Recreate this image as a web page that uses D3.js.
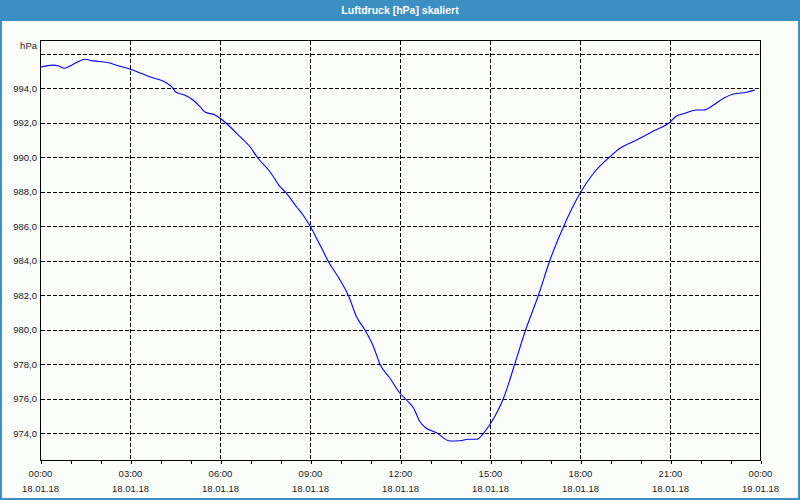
<!DOCTYPE html>
<html><head><meta charset="utf-8">
<script src="https://cdn.jsdelivr.net/npm/d3@7"></script>
<style>
html,body{margin:0;padding:0;background:#fbfdfb;}
svg{display:block;}
text{font-family:"Liberation Sans",Arial,sans-serif;}
</style></head>
<body>
<script>
const title = "Luftdruck [hPa] skaliert";
const unitLabel = "hPa";
const times = ["00:00","00:26","00:36","00:49","01:03","01:16","01:29","01:46","02:16","02:36","02:59","03:22","03:49","04:09","04:23","04:33","04:49","05:06","05:20","05:30","05:50","06:00","06:20","06:40","07:00","07:16","07:40","08:00","08:10","08:33","08:46","09:00","09:20","09:37","10:00","10:17","10:33","10:50","11:07","11:20","11:40","12:00","12:13","12:27","12:40","12:50","13:13","13:40","14:00","14:17","14:33","14:47","15:00","15:13","15:27","15:50","16:10","16:37","17:00","17:27","18:00","18:27","19:00","19:20","19:53","20:27","21:00","21:13","21:30","21:53","22:07","22:27","22:47","23:07","23:33","23:50"];
const pressure = [995.23,995.35,995.32,995.17,995.35,995.55,995.69,995.60,995.50,995.32,995.13,994.88,994.59,994.39,994.10,993.76,993.62,993.33,992.94,992.63,992.46,992.27,991.78,991.20,990.62,989.95,989.17,988.30,988.01,987.14,986.66,986.02,984.92,983.95,982.89,981.98,980.76,979.99,979.02,978.00,977.19,976.32,975.93,975.47,974.67,974.35,974.03,973.55,973.57,973.65,973.65,974.00,974.52,975.16,976.03,978.06,979.89,982.02,984.05,985.98,987.92,989.08,990.04,990.53,991.01,991.53,992.04,992.40,992.56,992.75,992.75,993.04,993.43,993.68,993.78,993.91];
const yTicks = [974,976,978,980,982,984,986,988,990,992,994];
const yGrid = [974,976,978,980,982,984,986,988,990,992,994,996];
const xTickLabels = [["00:00","18.01.18"],["03:00","18.01.18"],["06:00","18.01.18"],["09:00","18.01.18"],["12:00","18.01.18"],["15:00","18.01.18"],["18:00","18.01.18"],["21:00","18.01.18"],["00:00","19.01.18"]];

const W = 800, H = 500;
const L = 40, R = 760, T = 40, B = 460;
const svg = d3.select("body").append("svg").attr("width", W).attr("height", H);
svg.append("rect").attr("width", W).attr("height", H).attr("fill", "#fbfdfb");

// title bar
const blue = "#3c8fc3";
svg.append("rect").attr("x",0).attr("y",0).attr("width",W).attr("height",21).attr("fill",blue);
svg.append("text").attr("x",400).attr("y",14).attr("text-anchor","middle")
  .attr("fill","#fff").attr("font-weight","bold").attr("font-size","10.5px").text(title);
// window border
svg.append("rect").attr("x",0).attr("y",21).attr("width",2).attr("height",H-21).attr("fill",blue);
svg.append("rect").attr("x",W-2).attr("y",21).attr("width",2).attr("height",H-21).attr("fill",blue);
svg.append("rect").attr("x",0).attr("y",H-2).attr("width",W).attr("height",2).attr("fill",blue);

const parseT = d3.timeParse("%Y-%m-%d %H:%M");
const data = times.map((t,i) => ({t: parseT("2018-01-18 " + t), v: pressure[i]}));
const x = d3.scaleTime().domain([parseT("2018-01-18 00:00"), parseT("2018-01-19 00:00")]).range([L, R]);
const y = d3.scaleLinear().domain([972.45, 996.81]).range([B, T]);
const px = v => Math.round(v) + 0.5;

const g = svg.append("g");
// horizontal grid
g.selectAll(".hg").data(yGrid).enter().append("line")
  .attr("x1", L+1).attr("x2", R).attr("y1", d => px(y(d))).attr("y2", d => px(y(d)))
  .attr("stroke","#000").attr("stroke-dasharray","4,2").attr("shape-rendering","crispEdges");
// vertical grid
const vGrid = d3.range(3, 24, 3).map(h => d3.timeHour.offset(parseT("2018-01-18 00:00"), h));
g.selectAll(".vg").data(vGrid).enter().append("line")
  .attr("y1", T+1).attr("y2", B).attr("x1", d => px(x(d))).attr("x2", d => px(x(d)))
  .attr("stroke","#000").attr("stroke-dasharray","4,2").attr("shape-rendering","crispEdges");

// frame
g.append("rect").attr("x", L+0.5).attr("y", T+0.5).attr("width", R-L).attr("height", B-T)
  .attr("fill","none").attr("stroke","#000").attr("shape-rendering","crispEdges");

// x axis with hourly ticks
const xAxis = d3.axisBottom(x).ticks(d3.timeHour.every(1)).tickSize(3).tickFormat("");
const ax = svg.append("g").attr("transform", `translate(0.5,${B+0.5})`).call(xAxis);
ax.select(".domain").remove();
ax.selectAll("line").attr("stroke","#000").attr("shape-rendering","crispEdges");

// x labels
const xLabDates = xTickLabels.map((d,i) => d3.timeHour.offset(parseT("2018-01-18 00:00"), i*3));
const xl = svg.append("g");
xl.selectAll(".xt").data(xTickLabels).enter().append("text")
  .attr("x", (d,i) => x(xLabDates[i]) + 0.5).attr("y", 477).attr("text-anchor","middle")
  .attr("font-size","9.5px").attr("fill","#1a1a1a").text(d => d[0]);
xl.selectAll(".xd").data(xTickLabels).enter().append("text")
  .attr("x", (d,i) => x(xLabDates[i]) + 0.5).attr("y", 492).attr("text-anchor","middle")
  .attr("font-size","9.5px").attr("fill","#1a1a1a").text(d => d[1]);

// y labels
const fmt = v => d3.format(".1f")(v).replace(".", ",");
svg.selectAll(".yt").data(yTicks).enter().append("text")
  .attr("x", 37).attr("y", d => y(d) + 3.5).attr("text-anchor","end")
  .attr("font-size","9.5px").attr("fill","#1a1a1a").text(fmt);
svg.append("text").attr("x",37).attr("y",48.5).attr("text-anchor","end")
  .attr("font-size","9.5px").attr("fill","#1a1a1a").text(unitLabel);

// line
const line = d3.line().x(d => x(d.t)).y(d => y(d.v)).curve(d3.curveMonotoneX);
svg.append("path").datum(data).attr("d", line).attr("fill","none")
  .attr("stroke","#0000ff").attr("stroke-width",1.1);
</script>
</body></html>
